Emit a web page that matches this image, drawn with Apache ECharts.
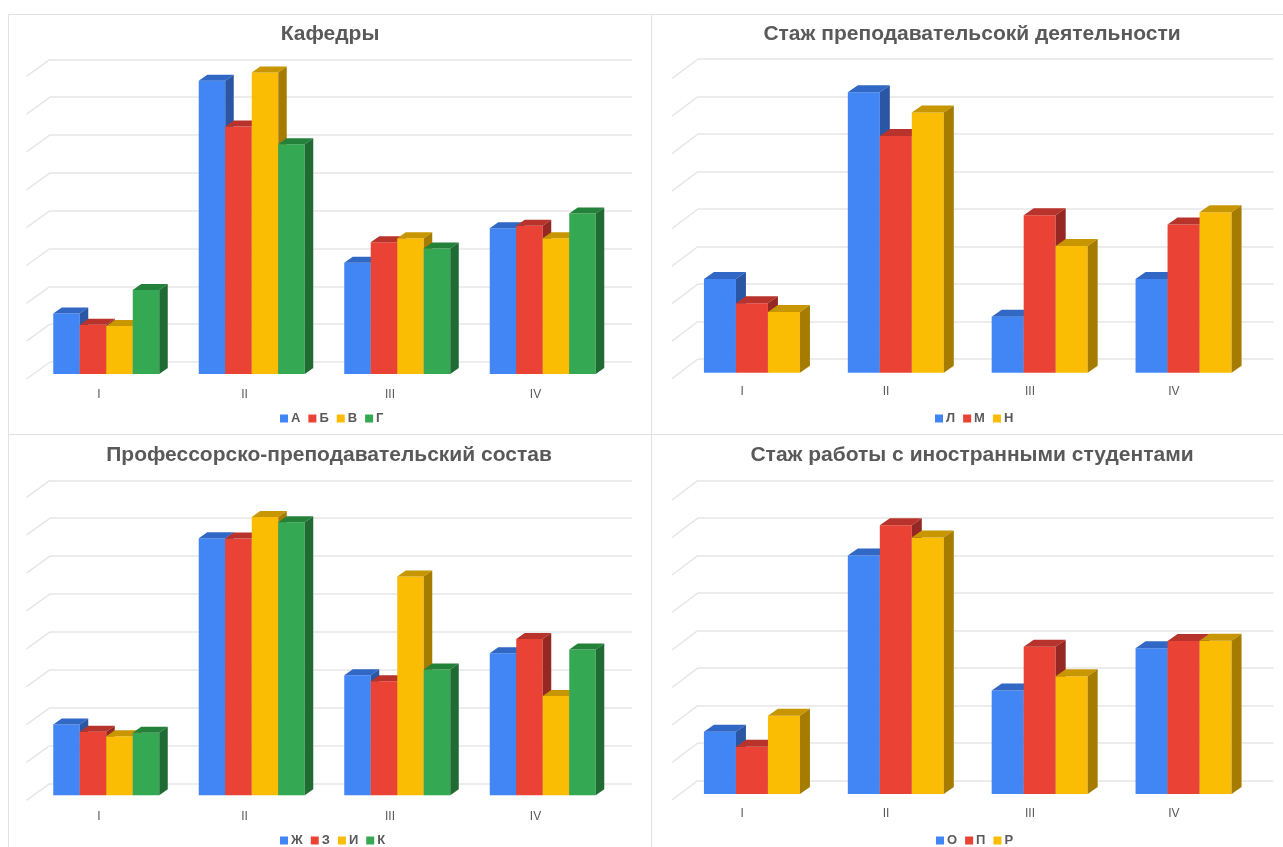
<!DOCTYPE html>
<html><head><meta charset="utf-8">
<script src="https://cdn.jsdelivr.net/npm/echarts@6/dist/echarts.min.js"></script>
<style>html,body{margin:0;padding:0;background:#fff}#c{width:1283px;height:847px}</style>
</head><body><div id="c"></div>
<script>
// ---- data ----
const categories = ['I', 'II', 'III', 'IV'];
const yTicks = [0, 10, 20, 30, 40, 50, 60, 70, 80];

const title1 = 'Кафедры';
const names1 = ['А', 'Б', 'В', 'Г'];
const seriesA = [16.0, 77.5, 29.4, 38.5];
const seriesB = [13.0, 65.4, 34.8, 39.2];
const seriesV = [12.7, 79.7, 35.9, 35.9];
const seriesG = [22.2, 60.7, 33.2, 42.4];

const title2 = 'Стаж преподавательсокй деятельности';
const names2 = ['Л', 'М', 'Н'];
const seriesL = [25.0, 74.8, 14.9, 25.0];
const seriesM = [18.5, 63.1, 42.0, 39.5];
const seriesN = [16.2, 69.4, 33.8, 42.8];

const title3 = 'Профессорско-преподавательский состав';
const names3 = ['Ж', 'З', 'И', 'К'];
const seriesZh = [18.7, 67.9, 31.7, 37.5];
const seriesZ = [16.8, 67.8, 30.1, 41.3];
const seriesI = [15.6, 73.5, 57.8, 26.2];
const seriesK = [16.5, 72.1, 33.2, 38.5];

const title4 = 'Стаж работы с иностранными студентами';
const names4 = ['О', 'П', 'Р'];
const seriesO = [16.6, 63.6, 27.6, 38.9];
const seriesP = [12.6, 71.7, 39.3, 40.8];
const seriesR = [20.9, 68.4, 31.4, 40.9];

// ---- styles / layout ----
const frontC = ['#4285F4', '#EA4335', '#FBBC04', '#34A853'];
const topC = ['#3167C5', '#B8332B', '#C89600', '#248139'];
const sideC = ['#2A56A4', '#952822', '#A67C00', '#1F6B33'];

const L = { fx: -16.5, fy: 12, dx: 8.5, dy: -6, sx: 23.5, sy: 17, group: 106, lab: 23.75 };
const R = { fx: -18, fy: 13.7, dx: 10, dy: -7, sx: 26, sy: 19.7, group: 96, lab: 27.7 };

const panels = [
  Object.assign({ title: title1, names: names1, values: [seriesA, seriesB, seriesV, seriesG],
    grid: { left: 50, top: 59.3, width: 582, height: 302.7 }, cx: 330, titleTop: 19, legendLeft: 280, legendTop: 412,
    border: [8, 14, 643, 420] }, L),
  Object.assign({ title: title2, names: names2, values: [seriesL, seriesM, seriesN],
    grid: { left: 698, top: 59, width: 575.5, height: 300 }, cx: 972, titleTop: 19, legendLeft: 935, legendTop: 412,
    border: [651, 14, 660, 420] }, R),
  Object.assign({ title: title3, names: names3, values: [seriesZh, seriesZ, seriesI, seriesK],
    grid: { left: 50, top: 480.3, width: 582, height: 303 }, cx: 329, titleTop: 440, legendLeft: 280, legendTop: 834,
    border: [8, 434, 643, 430] }, L),
  Object.assign({ title: title4, names: names4, values: [seriesO, seriesP, seriesR],
    grid: { left: 698, top: 480.3, width: 575.5, height: 300 }, cx: 972, titleTop: 440, legendLeft: 936, legendTop: 834,
    border: [651, 434, 660, 430] }, R)
];

const FONT = '"Liberation Sans", Arial, sans-serif';
const option = {
  animation: false,
  backgroundColor: '#fff',
  color: frontC,
  title: [], legend: [], grid: [], xAxis: [], yAxis: [], series: [],
  graphic: []
};

panels.forEach((p, pi) => {
  option.graphic.push({ type: 'rect', silent: true, z: -10,
    shape: { x: p.border[0] + 0.5, y: p.border[1] + 0.5, width: p.border[2], height: p.border[3] },
    style: { fill: 'none', stroke: '#e2e2e2', lineWidth: 1 } });
  option.title.push({ text: p.title, left: p.cx, top: p.titleTop, textAlign: 'center', padding: 0,
    textStyle: { fontFamily: FONT, fontSize: 21, fontWeight: 'bold', color: '#595959', lineHeight: 30 } });
  option.legend.push({ data: p.names, left: p.legendLeft, top: p.legendTop, padding: 0, itemWidth: 8, itemHeight: 8, itemGap: 8,
    icon: 'rect', selectedMode: false,
    textStyle: { fontFamily: FONT, fontSize: 13, fontWeight: 'bold', color: '#5a5a5a', padding: [0, 0, 0, -2] } });
  option.grid.push(Object.assign({ containLabel: false }, p.grid));
  option.xAxis.push({ gridIndex: pi, type: 'category', data: categories,
    axisLine: { show: false }, axisTick: { show: false }, splitLine: { show: false },
    axisLabel: { margin: 27, color: '#5a5a5a', fontSize: 12, fontFamily: FONT, padding: [0, 2 * p.lab, 0, 0] } });
  option.yAxis.push({ gridIndex: pi, type: 'value', min: 0, max: 80, interval: 10,
    axisLabel: { show: false }, axisLine: { show: false }, axisTick: { show: false },
    splitLine: { show: true, lineStyle: { color: '#e6e6e6', width: 1.5 } } });
  // slanted floor/wall edges of grid lines
  option.series.push({ type: 'custom', xAxisIndex: pi, yAxisIndex: pi, silent: true, z: 1,
    data: yTicks.map(t => [0, t]),
    renderItem(params, api) {
      const c = api.coord([0, api.value(1)]);
      const x0 = params.coordSys.x;
      return { type: 'line', shape: { x1: x0 - p.sx, y1: c[1] + p.sy, x2: x0, y2: c[1] },
        style: { stroke: '#e6e6e6', lineWidth: 1.5 } };
    } });
  const n = p.names.length;
  p.names.forEach((name, k) => {
    option.series.push({ type: 'custom', name: name, xAxisIndex: pi, yAxisIndex: pi, z: 2,
      itemStyle: { color: frontC[k] },
      data: p.values[k].map((v, i) => [i, v]),
      renderItem(params, api) {
        const ci = api.value(0), v = api.value(1);
        const top = api.coord([ci, v]);
        const base = api.coord([ci, 0]);
        const w = p.group / n;
        const xl = top[0] - p.group / 2 + k * w + p.fx;
        const xr = xl + w;
        const yt = top[1] + p.fy;
        const yb = base[1] + p.fy;
        return { type: 'group', children: [
          { type: 'rect', shape: { x: xl, y: yt, width: w, height: yb - yt }, style: { fill: frontC[k] } },
          { type: 'polygon', shape: { points: [[xl, yt], [xl + p.dx, yt + p.dy], [xr + p.dx, yt + p.dy], [xr, yt]] },
            style: { fill: topC[k] } },
          { type: 'polygon', shape: { points: [[xr, yt], [xr + p.dx, yt + p.dy], [xr + p.dx, yb + p.dy], [xr, yb]] },
            style: { fill: sideC[k] } }
        ] };
      } });
  });
});

const chart = echarts.init(document.getElementById('c'), null, { renderer: 'canvas' });
chart.setOption(option);
</script>
</body></html>
